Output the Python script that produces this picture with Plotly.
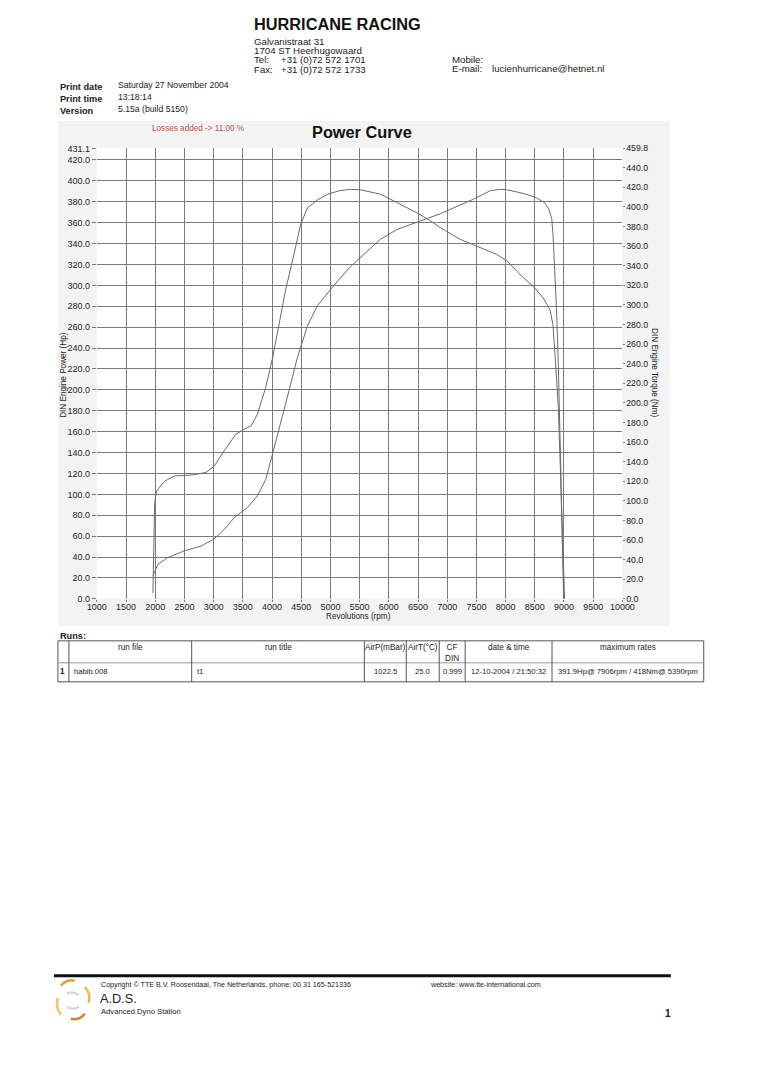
import plotly.graph_objects as go

W, H = 764, 1080

# ---------------- data ----------------
torque_rpm = [1960, 1975, 1990, 2020, 2160, 2330, 2640, 2870, 3010, 3180, 3380, 3520, 3640, 3750,
              3890, 4010, 4120, 4235, 4380, 4490, 4605, 4775, 4950, 5150, 5345, 5515, 5860, 6030,
              6200, 6480, 6655, 6880, 7220, 7560, 7850, 8020, 8300, 8475, 8645, 8760, 8810, 8845,
              8900, 8930, 8955, 8985, 9010]
torque_nm = [6, 60, 97, 110, 120, 125.5, 126.5, 129, 135.5, 151, 168, 173, 176.5, 188.5,
             215.5, 246, 280, 316, 353, 382, 399, 407, 413, 416.5, 418, 417.5, 413, 408,
             402.5, 394, 388, 379, 367, 358.5, 351.5, 345, 328, 319, 307, 295, 280, 250,
             199, 148, 97, 46, 0]

power_rpm = [1960, 2045, 2215, 2500, 2785, 3000, 3185, 3355, 3580, 3750, 3895, 4010, 4150, 4290,
             4435, 4605, 4775, 5060, 5345, 5630, 5855, 6140, 6540, 6880, 7165, 7450, 7735, 7906,
             8020, 8300, 8500, 8670, 8740, 8790, 8815, 8843, 8872, 8900, 8925, 8945, 8960, 8995]
power_hp = [22, 33, 39.5, 46, 50.5, 57, 66.5, 78, 87.5, 98.5, 114.5, 138.5, 170, 199,
            231, 261, 280.5, 300, 318, 333, 344, 353.5, 362, 368.5, 375.5, 382.5, 390.5, 391.9,
            391.5, 388, 384.5, 379, 373, 364, 346, 314, 277, 230, 180, 125, 78, 0]

x_ticks = list(range(1000, 10001, 500))
hp_ticks = [v for v in range(0, 421, 20)] + [431.1]
nm_ticks = [v for v in range(0, 441, 20)] + [459.8]
hp_max = 431.1
nm_max = 459.8

table_header = ["", "run file", "run title", "AirP(mBar)", "AirT(°C)", "CF<br>DIN", "date & time", "maximum rates"]
table_row = ["1", "habib.008", "t1", "1022.5", "25.0", "0.999", "12-10-2004 / 21:50:32",
             "391.9Hp@ 7906rpm / 418Nm@ 5390rpm"]

FONT = "Arial, Liberation Sans, sans-serif"

# calibration of page pixels -> figure pixels
SX, OX = 0.973, 17.0
SY, OY = 0.991, 12.0
FS = 1.02


def px(x):
    return ((x - OX) / SX) / W


def py(y):
    return 1 - ((y - OY) / SY) / H


def fs(s):
    return s * FS


fig = go.Figure()
fig.add_trace(go.Scatter(x=power_rpm, y=power_hp, mode="lines", yaxis="y",
                         line=dict(color="#6a6a6a", width=1), showlegend=False))
fig.add_trace(go.Scatter(x=torque_rpm, y=torque_nm, mode="lines", yaxis="y2",
                         line=dict(color="#6a6a6a", width=1), showlegend=False))

x0, x1 = 96.0, 622.5
ytop, ybot = 147.4, 598.0

fig.update_layout(
    width=W, height=H, margin=dict(l=0, r=0, t=0, b=0),
    paper_bgcolor="white", plot_bgcolor="white",
    font=dict(family=FONT, size=fs(9), color="#222"),
    xaxis=dict(domain=[px(x0), px(x1)], range=[1000, 10000], tickvals=x_ticks,
               ticktext=[str(v) for v in x_ticks], showgrid=True, gridcolor="#7a7a7a", gridwidth=1,
               ticks="outside", ticklen=2, tickcolor="#7a7a7a", zeroline=False, showline=False,
               ticklabelstandoff=-3,
               tickfont=dict(size=fs(8.8), color="#222"), anchor="y"),
    yaxis=dict(domain=[py(ybot), py(ytop)], range=[0, hp_max], tickvals=hp_ticks,
               ticktext=[f"{v:.1f}" for v in hp_ticks], showgrid=True, gridcolor="#7a7a7a",
               gridwidth=1, ticks="outside", ticklen=4, tickcolor="#7a7a7a", zeroline=False,
               showline=False, tickfont=dict(size=fs(8.8), color="#222"), anchor="x"),
    yaxis2=dict(overlaying="y", side="right", range=[0, nm_max], tickvals=nm_ticks,
                ticktext=[f"{v:.1f}" for v in nm_ticks], showgrid=False, ticks="outside",
                ticklen=2, tickcolor="#7a7a7a", zeroline=False, showline=False,
                ticklabelstandoff=-1,
                tickfont=dict(size=fs(8.6), color="#222"), anchor="x"),
)

shapes = []
# light grey chart background
shapes.append(dict(type="rect", xref="paper", yref="paper", x0=px(57), x1=px(670), y0=py(625), y1=py(120),
                   fillcolor="#f3f3f3", line=dict(width=0), layer="below"))
shapes.append(dict(type="rect", xref="paper", yref="paper", x0=px(x0), x1=px(x1), y0=py(ybot), y1=py(ytop),
                   fillcolor="white", line=dict(width=0), layer="below"))

# table lines
tx = [57, 68, 191, 364, 406, 439, 465, 552, 704]
ty_top, ty_mid, ty_bot = 640, 662, 681
lc = "#555"
shapes.append(dict(type="rect", xref="paper", yref="paper", x0=px(tx[0]), x1=px(tx[-1]), y0=py(ty_bot),
                   y1=py(ty_top), line=dict(color=lc, width=1)))
shapes.append(dict(type="line", xref="paper", yref="paper", x0=px(tx[0]), x1=px(tx[-1]), y0=py(ty_mid),
                   y1=py(ty_mid), line=dict(color="#999", width=1)))
for xv in tx[1:-1]:
    shapes.append(dict(type="line", xref="paper", yref="paper", x0=px(xv), x1=px(xv), y0=py(ty_bot),
                       y1=py(ty_top), line=dict(color=lc, width=1)))

# footer rule
shapes.append(dict(type="line", xref="paper", yref="paper", x0=px(53), x1=px(671), y0=py(975), y1=py(975),
                   line=dict(color="#111", width=3)))

# logo swirl (decorative)
arcs = [((60, 985), (66, 978), (74, 980), "#e89a3c"),
        ((84, 986), (90, 993), (88, 1002), "#f0b84a"),
        ((84, 1013), (78, 1020), (70, 1018), "#e07a30"),
        ((60, 1014), (54, 1006), (57, 997), "#f2c860"),
        ((66, 993), (72, 990), (78, 994), "#d9d9d9"),
        ((78, 1006), (72, 1010), (66, 1006), "#d9d9d9")]
for (a, b, c, col) in arcs:
    path = f"M {px(a[0])},{py(a[1])} Q {px(b[0])},{py(b[1])} {px(c[0])},{py(c[1])}"
    shapes.append(dict(type="path", xref="paper", yref="paper", path=path, line=dict(color=col, width=2.5)))

fig.update_layout(shapes=shapes)

ann = []


def text(x, y, s, size=9, bold=False, color="#222", anchor="left", angle=0):
    if bold:
        s = f"<b>{s}</b>"
    ann.append(dict(x=px(x), y=py(y), xref="paper", yref="paper", text=s, showarrow=False,
                    xanchor=anchor, yanchor="middle", textangle=angle,
                    font=dict(family=FONT, size=fs(size), color=color)))


# header
text(251, 23, "HURRICANE RACING", size=16, bold=True, color="#111")
text(251, 40.5, "Galvanistraat 31", size=9.5)
text(251, 50, "1704 ST Heerhugowaard", size=9.5)
text(251, 59, "Tel:", size=9.5)
text(278, 59, "+31 (0)72 572 1701", size=9.5)
text(251, 68.5, "Fax:", size=9.5)
text(278, 68.5, "+31 (0)72 572 1733", size=9.5)
text(450, 59, "Mobile:", size=9.5)
text(450, 68, "E-mail:", size=9.5)
text(490, 68, "lucienhurricane@hetnet.nl", size=9.5)

text(57, 86, "Print date", size=9, bold=True)
text(57, 98, "Print time", size=9, bold=True)
text(57, 110, "Version", size=9, bold=True)
text(115, 84, "Saturday 27 November 2004", size=8.5)
text(115, 96, "13:18:14", size=8.5)
text(115, 108, "5.15a (build 5150)", size=8.5)

# chart texts
text(197, 128, "Losses added -> 11.00 %", size=8, color="#c0504d", anchor="center")
text(362, 131, "Power Curve", size=16, bold=True, color="#111", anchor="center")
text(63, 374, "DIN Engine Power (Hp)", size=8, anchor="center", angle=-90)
text(654, 372, "DIN Engine Torque (Nm)", size=8, anchor="center", angle=90)
text(358, 616, "Revolutions (rpm)", size=8, anchor="center")

# runs table
text(57, 635, "Runs:", size=9, bold=True)
for i, h in enumerate(table_header):
    if not h:
        continue
    cxm = (tx[i] + tx[i + 1]) / 2
    yy = 652 if "<br>" in h else 647
    ann.append(dict(x=px(cxm), y=py(yy), xref="paper", yref="paper", text=h, showarrow=False,
                    xanchor="center", yanchor="middle", font=dict(family=FONT, size=fs(8), color="#222")))
for i, v in enumerate(table_row):
    if i in (1, 2):
        text(tx[i] + 3, 671, v, size=7.5)
    elif i == 0:
        text(62, 671, v, size=8, bold=True, anchor="center")
    else:
        text((tx[i] + tx[i + 1]) / 2, 671, v, size=7.5, anchor="center")

# footer
text(98, 984, "Copyright © TTE B.V. Roosendaal, The Netherlands, phone: 00 31 165-521336", size=7)
text(428, 984, "website: www.tte-international.com", size=7)
text(97, 998, "A.D.S.", size=12.5, color="#222")
text(98, 1011, "Advanced Dyno Station", size=7.5)
text(668, 1013, "1", size=10, bold=True, anchor="center")

fig.update_layout(annotations=ann)

fig.write_html("out.html")
